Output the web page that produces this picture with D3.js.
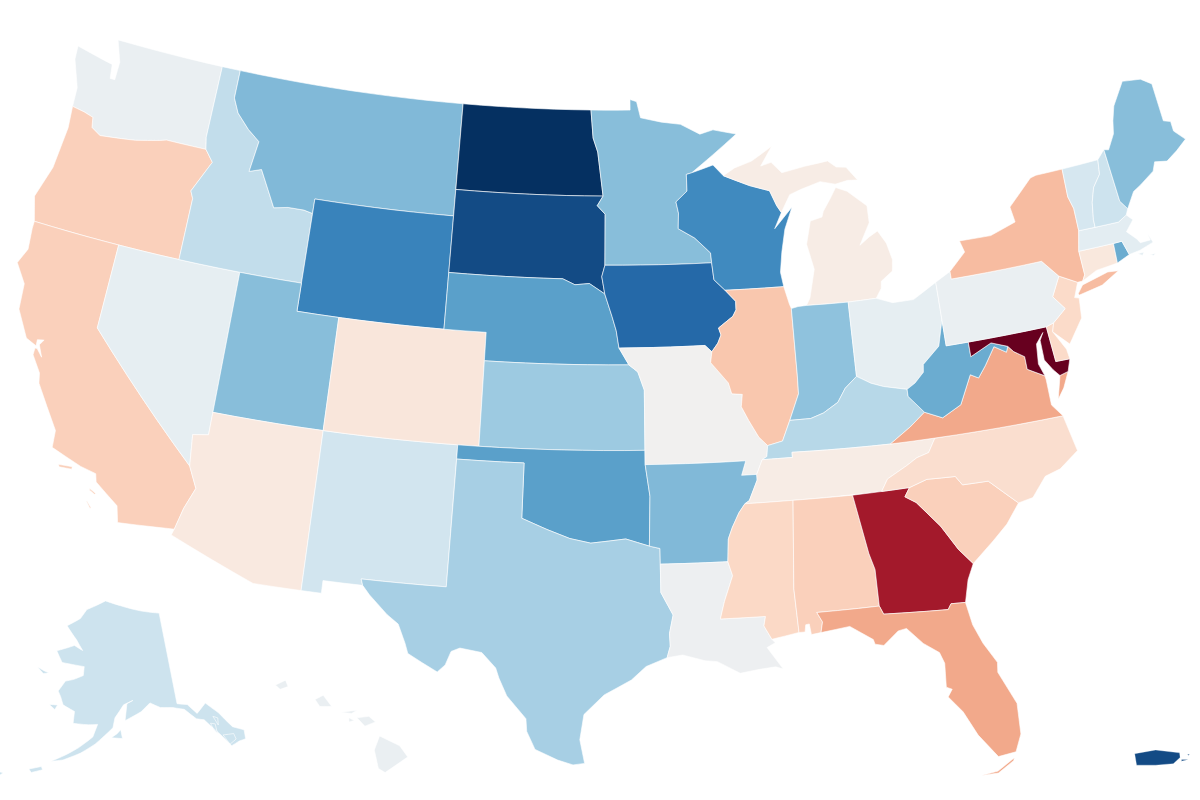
<!DOCTYPE html>
<html>
<head>
<meta charset="utf-8">
<script src="https://d3js.org/d3.v7.min.js"></script>
<style>
  html, body { margin: 0; background: #fff; }
  svg { display: block; filter: blur(0.4px); }
</style>
</head>
<body>
<svg id="map" width="1200" height="800"></svg>
<script>
// shared borders, lon/lat
const rev = a => a.slice().reverse();
const waOr = [[-124.05,46.27],[-123.4,46.2],[-122.9,46.1],[-122.8,45.75],[-122.3,45.55],[-121.2,45.65],[-120.5,45.72],[-119.3,45.93],[-118.98,46],[-116.92,46]];
const idWa = [[-117.03,49],[-117.04,46.42],[-116.92,46]];
const idOr = [[-116.92,46],[-116.46,45.6],[-116.85,45],[-117.2,44.45],[-117.03,44.2],[-117.03,42]];
const idMt = [[-116.05,49],[-116.05,48],[-115.7,47.5],[-115,47],[-114.35,46.65],[-114.55,45.55],[-113.95,45.7],[-113.45,45.05],[-113,44.45],[-112.3,44.55],[-111.5,44.55],[-111.05,44.48]];
const redRiver = [[-97.23,49],[-97.1,48],[-96.85,47.5],[-96.56,45.94]];
const sdMn = [[-96.56,45.94],[-96.85,45.6],[-96.45,45.3],[-96.45,43.5]];
const bigSioux = [[-96.45,43.5],[-96.6,43.1],[-96.45,42.49]];
const sdNe = [[-104.05,43],[-98.5,43],[-97.9,42.8],[-97.2,42.85],[-96.45,42.49]];
const iaNe = [[-96.45,42.49],[-96.1,41.7],[-95.9,41.2],[-95.77,40.59]];
const neMo = [[-95.77,40.59],[-95.31,40]];
const ksMo = [[-95.31,40],[-94.9,39.75],[-94.61,39.11],[-94.62,37]];
const coloradoRiver = [[-114.6,35],[-114.15,34.27],[-114.5,33.5],[-114.72,32.72]];
const redRiverTx = [[-100,34.56],[-98.9,34.2],[-97.9,33.9],[-97,33.75],[-95.5,33.9],[-94.49,33.64]];
const arOk = [[-94.62,36.5],[-94.43,35.39],[-94.49,33.64]];
const mnWi = [[-92.01,46.71],[-92.29,46.66],[-92.29,46.07],[-92.87,45.7],[-92.76,45.3],[-92.8,44.75],[-92,44.4],[-91.25,43.85],[-91.22,43.5]];
const wiIa = [[-91.22,43.5],[-91.15,42.9],[-90.64,42.51]];
const ilIa = [[-90.64,42.51],[-90.16,42.1],[-90.17,41.8],[-90.34,41.58],[-91.05,41.2],[-90.95,40.95],[-91.12,40.67],[-91.42,40.38]];
const ilMo = [[-91.42,40.38],[-91.5,40],[-90.73,39.26],[-90.6,38.87],[-90.12,38.83],[-90.2,38.4],[-89.9,37.9],[-89.5,37.3],[-89.13,36.98]];
const kyMo = [[-89.13,36.98],[-89.2,36.6],[-89.42,36.5]];
const tnMo = [[-89.42,36.5],[-89.7,36]];
const tnAr = [[-89.7,36],[-89.7,35.8],[-90.1,35.1],[-90.3,35]];
const msAr = [[-90.3,35],[-90.58,34.7],[-90.9,34.2],[-91.1,33.8],[-91.17,33]];
const msLa = [[-91.17,33],[-91,32.5],[-91.4,31.6],[-91.6,31],[-89.73,31],[-89.82,30.67],[-89.53,30.18]];
const ohWv = [[-80.52,40.64],[-80.86,39.75],[-81.7,39.2],[-81.75,38.93],[-82.2,38.6],[-82.6,38.42]];
const ohKy = [[-82.6,38.42],[-83.65,38.63],[-84.2,38.8],[-84.82,39.1]];
const inKy = [[-84.82,39.1],[-85.4,38.73],[-85.8,38.27],[-86.5,37.95],[-87.1,37.8],[-88.05,37.8]];
const ilKy = [[-88.05,37.8],[-88.45,37.1],[-89.13,36.98]];
const wabash = [[-88.05,37.8],[-87.55,38.7],[-87.53,39.35],[-87.53,41.7]];
const kyWv = [[-82.6,38.42],[-82.6,38.17],[-81.97,37.54]];
const kyVa = [[-81.97,37.54],[-82.7,37.1],[-83.68,36.6]];
const kyTn = [[-83.68,36.6],[-86.5,36.65],[-88.07,36.68],[-88.07,36.5],[-89.42,36.5]];
const ncTn = [[-81.68,36.59],[-82.05,36.12],[-82.6,36],[-83.1,35.77],[-84,35.4],[-84.32,34.99]];
const vaWv = [[-77.72,39.32],[-77.83,39.13],[-78.35,39.4],[-78.9,38.8],[-79.3,38.42],[-79.65,38.58],[-80.3,37.6],[-81.2,37.25],[-81.97,37.54]];
const potomac = [[-76.32,38.05],[-77.05,38.4],[-77.05,38.85],[-77.5,39.1],[-77.72,39.32]];
const mdWv = [[-77.72,39.32],[-78.45,39.55],[-79.48,39.2],[-79.48,39.72]];
const scGa = [[-83.1,35],[-83.35,34.7],[-82.9,34.45],[-82,33.5],[-81.4,32.6],[-80.88,32.03]];
const ncSc = [[-83.1,35],[-82.3,35.2],[-81.05,35.15],[-80.8,34.82],[-79.67,34.8],[-78.55,33.86]];
const flGa = [[-85,31],[-84.86,30.7],[-82.2,30.56],[-82.05,30.75],[-81.45,30.72]];
const gaAl = [[-85.6,34.98],[-85.18,32.87],[-85,32.3],[-85,31]];
const njPa = [[-74.7,41.36],[-75.2,40.7],[-74.75,40.2],[-75.42,39.8]];
const nyVt = [[-73.35,45],[-73.4,44],[-73.25,43.55],[-73.27,42.75]];
const vtNh = [[-71.5,45.01],[-71.6,44.5],[-72.05,44.1],[-72.3,43.6],[-72.45,43],[-72.46,42.73]];
const meNh = [[-71.08,45.3],[-70.98,43.4],[-70.7,43.07]];
const sabine = [[-94.04,33],[-94.04,32],[-93.55,31.2],[-93.72,30.55],[-93.7,30.1],[-93.84,29.7]];

// state rings
const WA = [[[-124.7,48.38],[-123.1,48.15],[-122.7,48.1],[-122.6,47.6],[-122.35,47.6],[-122.35,48.25],[-122.76,49],...idWa,...rev(waOr),[-124.1,46.95],[-124.65,47.9]]];
const OR = [[...waOr,...idOr,[-124.2,42],[-124.55,42.85],[-124.1,44],[-123.95,45.5]]];
const ID = [[[-117.03,49],...idMt,[-111.05,42],...rev(idOr),...rev(idWa)]];
const MT = [[[-116.05,49],[-104.05,49],[-104.05,45],[-111.05,45],...rev(idMt)]];
const WY = [[[-111.05,45],[-104.05,45],[-104.05,41],[-111.05,41]]];
const ND = [[[-104.05,49],...redRiver,[-104.05,45.94]]];
const SD = [[[-104.05,45.94],...sdMn,...bigSioux,...rev(sdNe)]];
const NE = [[...sdNe,...iaNe,...neMo,[-102.05,40],[-102.05,41],[-104.05,41]]];
const CO = [[[-109.05,41],[-102.05,41],[-102.05,37],[-109.05,37]]];
const UT = [[[-114.05,42],[-111.05,42],[-111.05,41],[-109.05,41],[-109.05,37],[-114.05,37]]];
const NV = [[[-120,42],[-114.05,42],[-114.05,36.2],[-114.74,36.1],[-114.6,35],[-120,39]]];
const CA = [
  [[-124.2,42],[-120,42],[-120,39],...coloradoRiver,[-117.12,32.53],[-117.3,33.1],[-118.4,33.75],[-118.5,34.03],[-119.2,34.15],[-120.6,34.55],[-120.65,35.15],[-121.9,36.6],[-122,36.95],[-122.5,37.5],[-122.5,37.75],[-122.4,37.75],[-122.1,37.5],[-122.35,37.9],[-122.2,38.1],[-122.5,38.05],[-122.48,37.83],[-123,38],[-123.7,38.9],[-123.8,39.8],[-124.4,40.44],[-124.1,41],[-124.2,41.75]],
  [[-120.15,34.03],[-119.55,34.07],[-119.55,33.98],[-120.1,33.95]],
  [[-118.6,33.47],[-118.3,33.35],[-118.35,33.32],[-118.6,33.42]],
  [[-118.6,33.03],[-118.35,32.82],[-118.4,32.8],[-118.6,33]]
];
const AZ = [[[-114.05,37],[-109.05,37],[-109.05,31.33],[-111.07,31.33],[-114.8,32.5],...rev(coloradoRiver),[-114.74,36.1],[-114.05,36.2]]];
const NM = [[[-109.05,37],[-103,37],[-103.04,32],[-106.62,32],[-106.53,31.78],[-108.2,31.78],[-108.2,31.33],[-109.05,31.33]]];
const KS = [[[-102.05,40],...ksMo,[-102.05,37]]];
const OK = [[[-103,37],[-94.62,37],...arOk,...rev(redRiverTx),[-100,36.5],[-103,36.5]]];
const TX = [[[-103,36.5],[-100,36.5],...redRiverTx,[-94.04,33.55],...sabine,[-94.7,29.4],[-95.3,28.93],[-96.4,28.4],[-97.2,27.7],[-97.35,26.8],[-97.15,25.96],[-97.6,25.9],[-98.2,26.06],[-99.1,26.42],[-99.45,27.05],[-99.5,27.5],[-100.3,28.28],[-100.65,28.9],[-100.8,29.25],[-101.4,29.77],[-102.3,29.88],[-102.65,29.74],[-102.85,29.25],[-103.15,28.98],[-103.8,29.27],[-104.4,29.55],[-104.55,29.9],[-104.9,30.55],[-105.4,30.85],[-106.2,31.47],[-106.53,31.78],[-106.62,32],[-103.04,32]]];
const AR = [[[-94.62,36.5],[-90.15,36.5],[-90.37,36],...tnAr,...msAr,[-94.04,33],[-94.04,33.55],...rev(arOk)]];
const MO = [[[-95.77,40.59],[-91.73,40.61],...ilMo,...kyMo,...tnMo,[-90.37,36],[-90.15,36.5],[-94.62,36.5],...rev(ksMo),...rev(neMo)]];
const IA = [[[-96.45,43.5],...wiIa,...ilIa,[-91.73,40.61],...rev(iaNe),...rev(bigSioux)]];
const MN = [[[-97.23,49],[-95.15,49],[-95.15,49.38],[-94.8,49.3],[-94.6,48.72],[-93.5,48.55],[-92.5,48.45],[-91.5,48.07],[-90.8,48.2],[-89.6,48],[-90.9,47.3],...mnWi,...rev(sdMn),...rev(redRiver)]];
const WI = [[[-92.01,46.71],[-90.9,46.95],[-90.4,46.55],[-89.1,46.14],[-88.1,45.9],[-87.8,45.35],[-87.6,45.1],[-88,44.55],[-87.05,45.25],[-87.5,44.5],[-87.75,43.7],[-87.9,43],[-87.8,42.49],...rev(wiIa),...rev(mnWi)]];
const IL = [[[-87.8,42.49],...ilIa,...ilMo,...rev(ilKy),...wabash,[-87.6,41.85]]];
const IN = [[[-87.53,41.7],[-87.2,41.75],[-86.8,41.76],[-84.8,41.72],...inKy,...wabash]];
const MI = [
  [[-86.8,41.76],[-84.8,41.72],[-83.45,41.73],[-83.15,42.05],[-83.1,42.3],[-82.5,42.6],[-82.42,43],[-82.6,43.6],[-82.95,44.07],[-83.4,43.9],[-83.9,43.65],[-83.3,44.4],[-83.3,45],[-84.2,45.6],[-84.75,45.78],[-85.1,45.4],[-85.5,45],[-85.6,44.8],[-86.2,44.7],[-86.5,43.9],[-86.25,43],[-86.6,42]],
  [[-90.4,46.55],[-89.1,46.14],[-88.1,45.9],[-87.8,45.35],[-87.6,45.1],[-87.1,45.7],[-86.5,45.85],[-85.5,46.05],[-84.75,45.9],[-84.1,45.98],[-83.6,45.95],[-84.1,46.45],[-84.6,46.5],[-85,46.75],[-86.2,46.65],[-87.4,46.5],[-87.9,46.9],[-88.45,46.8],[-87.8,47.47],[-88.9,47],[-89.8,46.8]]
];
const OH = [[[-84.8,41.72],[-83.45,41.73],[-82.7,41.5],[-81.7,41.5],[-80.52,41.98],...ohWv,...ohKy]];
const KY = [[...rev(ohKy),...kyWv,...kyVa,...kyTn,...rev(kyMo),...rev(ilKy),...rev(inKy)]];
const TN = [[...rev(tnMo),...rev(kyTn),...ncTn,[-88.2,35],...rev(tnAr)]];
const MS = [[[-88.2,35],...msAr,...msLa,[-88.4,30.35],[-88.47,31.9]]];
const AL = [[[-88.2,35],...gaAl,[-87.6,31],[-87.4,30.65],[-87.5,30.28],[-87.9,30.24],[-87.95,30.62],[-88.1,30.6],[-88.15,30.35],[-88.4,30.35],[-88.47,31.9]]];
const GA = [[...rev(gaAl),[-83.1,35],...scGa.slice(1),[-81.2,31.5],...rev(flGa)]];
const FL = [
  [[-87.6,31],...flGa,[-81.3,29.9],[-81,29.2],[-80.55,28.45],[-80.6,28.1],[-80.05,26.9],[-80.1,25.8],[-80.4,25.2],[-81.1,25.13],[-81.75,26],[-82.2,26.9],[-82.7,27.5],[-82.5,27.75],[-82.72,27.85],[-82.65,28.7],[-82.8,29.1],[-83.4,29.5],[-84,30.1],[-84.35,30.05],[-85,29.6],[-85.35,29.68],[-85.4,29.85],[-86.3,30.4],[-87.5,30.28],[-87.4,30.65]],
  [[-81.85,24.55],[-81.2,24.62],[-80.5,25],[-80.55,24.9],[-81.2,24.55]]
];
const SC = [[...ncSc,[-79.2,33.2],[-79.9,32.7],...rev(scGa)]];
const NC = [[[-84.32,34.99],[-83.1,35],...ncSc.slice(1),[-77.9,33.95],[-77.2,34.6],[-76.5,34.75],[-75.6,35.25],[-75.9,36.55],...ncTn]];
const VA = [
  [[-83.68,36.6],[-81.68,36.59],[-75.9,36.55],[-76.3,37],[-76.3,37.9],...potomac,...vaWv,...kyVa],
  [[-75.95,37.15],[-75.65,37.95],[-75.25,38.03],[-75.6,37.5]]
];
const WV = [[...ohWv,...kyWv,...rev(vaWv),...mdWv,[-80.52,39.72]]];
const MD = [[[-79.48,39.72],[-75.79,39.72],[-75.7,38.46],[-75.05,38.45],[-75.25,38.03],[-75.65,37.95],[-75.9,38.2],[-76.2,38.6],[-76.2,39.3],[-76,39.55],[-76.4,39.2],[-76.5,38.5],...potomac,...mdWv]];
const DE = [[[-75.79,39.72],[-75.42,39.8],[-75.55,39.5],[-75.1,38.8],[-75.05,38.45],[-75.7,38.46]]];
const NJ = [[...njPa,[-75.55,39.5],[-74.9,38.95],[-74.1,39.75],[-74,40.45],[-74.2,40.5],[-73.9,41]]];
const PA = [[[-80.52,41.98],[-79.76,42.27],[-79.76,42],[-75.35,42],...njPa,[-75.79,39.72],[-80.52,39.72]]];
const NY = [
  [[-79.76,42.27],[-78.9,42.85],[-79.05,43.27],[-77.5,43.25],[-76.2,43.55],[-76.3,44.1],[-75,44.95],[-74.7,45],...nyVt,[-73.5,42.05],[-73.49,41.2],[-73.65,41],[-73.9,41],[-74.7,41.36],[-75.35,42],[-79.76,42]],
  [[-74,40.6],[-73.7,40.87],[-72.4,41.1],[-71.9,41.05],[-72.8,40.7],[-73.95,40.55]]
];
const CT = [[[-73.5,42.05],[-71.8,42.02],[-71.85,41.32],[-72.9,41.25],[-73.65,41],[-73.49,41.2]]];
const RI = [[[-71.8,42.02],[-71.38,42.02],[-71.2,41.5],[-71.85,41.32]]];
const MA = [
  [[-73.27,42.75],[-72.46,42.73],[-71.3,42.7],[-70.85,42.87],[-70.6,42.65],[-71.05,42.3],[-70.65,41.95],[-70.55,41.8],[-70.05,41.8],[-70.1,42.05],[-69.95,41.7],[-70.65,41.55],[-71.2,41.5],[-71.38,42.02],[-71.8,42.02],[-73.5,42.05]],
  [[-70.25,41.3],[-69.97,41.3],[-70.1,41.24]],
  [[-70.8,41.45],[-70.5,41.45],[-70.6,41.35]]
];
const VT = [[...rev(nyVt),...vtNh]];
const NH = [[...vtNh,[-71.3,42.7],[-70.85,42.87],[-70.7,43.07],...rev(meNh)]];
const ME = [[[-71.08,45.3],[-70.85,45.25],[-70.4,45.75],[-70.25,46.2],[-70,46.7],[-69.23,47.46],[-69,47.43],[-68.3,47.35],[-67.8,47.07],[-67.79,45.7],[-67.45,45.6],[-67.45,45.25],[-67,44.85],[-67.6,44.55],[-68.2,44.3],[-68.8,44.4],[-69,44.1],[-69.8,43.75],[-70.2,43.6],[-70.7,43.07],[-70.98,43.4]]];
const LA = [[...sabine,[-93.2,29.78],[-92.3,29.55],[-91.8,29.5],[-90.9,29.05],[-90.1,29.15],[-89.45,29.2],[-89.15,29.1],[-89.75,29.9],[-89.4,30.05],...rev(msLa)]];
const AK = [
  [[-141,69.65],[-141,60.3],[-139,60],[-137.5,58.9],[-135.4,59.7],[-133.5,58.4],[-131.8,56.6],[-130,55.9],[-130.3,55],[-131.5,55],[-133,54.8],[-134.3,56.2],[-136.5,58.1],[-137.9,58.4],[-139.8,59.6],[-142,60],[-144.5,60.2],[-146.5,60.8],[-148.5,60],[-151.8,59.2],[-151.3,60.9],[-150,61.2],[-152,60.8],[-153.8,59.5],[-154.2,58.5],[-157.5,56.8],[-160,55.8],[-163,54.9],[-165,54.6],[-162.5,55.5],[-160.5,56.3],[-158,57.5],[-157.2,58.8],[-159,58.7],[-162,58.7],[-162,59.9],[-164.5,60.4],[-165.3,61.2],[-166,61.7],[-164.8,62.8],[-163,63.1],[-161,63.6],[-161,64.5],[-163,64.55],[-166.3,64.6],[-168.1,65.65],[-164,66.5],[-161.8,66.1],[-163.7,67.1],[-166.8,68.35],[-163.5,69.3],[-162,70.3],[-156.6,71.35],[-152,70.85],[-146,70.15]],
  [[-154.5,57.5],[-152.4,57.4],[-152.7,58.3],[-153.4,57.9]],
  [[-171.6,63.6],[-170,63.4],[-168.8,63.3],[-170,63.1]],
  [[-167.3,60.2],[-165.6,60.3],[-166,59.8]],
  [[-168.5,53.4],[-166.5,53.9],[-166.2,53.6],[-168,53.1]],
  [[-174.5,52.3],[-172.5,52.4],[-173,52]],
  [[-177,51.95],[-176,52.05],[-176.2,51.8]],
  [[-133.9,56.1],[-132,55.9],[-131.9,55.3],[-133.2,55]],
  [[-135.5,57.6],[-134.7,57.4],[-134.8,56.4],[-135.3,57]],
  [[-134.7,58.2],[-133.9,57.9],[-134.2,57.2]]
];
const HI = [
  [[-156.05,19.75],[-155.85,20.25],[-155.1,19.9],[-154.8,19.5],[-155.65,18.95],[-155.9,19.1]],
  [[-156.7,20.9],[-156.25,20.95],[-156,20.75],[-156.4,20.6]],
  [[-158.28,21.55],[-157.97,21.7],[-157.65,21.3],[-158.1,21.3]],
  [[-159.78,22.05],[-159.4,22.23],[-159.3,22],[-159.6,21.9]],
  [[-157.3,21.1],[-156.7,21.17],[-156.9,21.05]],
  [[-157,20.9],[-156.8,20.8],[-157,20.75]]
];
const PR = [
  [[-67.27,18.35],[-66.5,18.48],[-65.62,18.38],[-65.6,18.22],[-65.85,18],[-66.5,17.95],[-67.2,17.95]],
  [[-65.55,18.15],[-65.3,18.15],[-65.55,18.09]],
  [[-65.33,18.33],[-65.25,18.33],[-65.3,18.29]]
];

const stateIds = ["WA","OR","CA","NV","ID","MT","WY","UT","AZ","NM","CO","ND","SD","NE","KS","OK","TX","MN","IA","MO","AR","LA","WI","IL","MI","IN","OH","KY","TN","MS","AL","GA","FL","SC","NC","VA","WV","MD","DE","NJ","PA","NY","CT","RI","MA","VT","NH","ME","AK","HI"];
const stateShapes = [WA,OR,CA,NV,ID,MT,WY,UT,AZ,NM,CO,ND,SD,NE,KS,OK,TX,MN,IA,MO,AR,LA,WI,IL,MI,IN,OH,KY,TN,MS,AL,GA,FL,SC,NC,VA,WV,MD,DE,NJ,PA,NY,CT,RI,MA,VT,NH,ME,AK,HI];
// position on the colour ramp (0 = dark red, 1 = dark blue)
const stateValues = [.53,.385,.385,.54,.62,.72,.835,.71,.455,.59,.445,1,.95,.775,.68,.775,.665,.71,.89,.505,.72,.52,.82,.365,.47,.7,.54,.64,.47,.405,.385,.085,.31,.385,.42,.31,.75,0,.41,.41,.53,.345,.45,.75,.55,.58,.6,.71,.6,.53];
const prValue = .95;

const color = d3.scaleSequential(d3.interpolateRdBu).domain([0, 1]);
const svg = d3.select("#map");

const projection = d3.geoAlbersUsa().scale(1620).translate([601, 402]);
const prProjection = d3.geoMercator().center([-66.45, 18.2]).scale(1560).translate([1157, 758]);
const path = d3.geoPath(projection);
const prPath = d3.geoPath(prProjection);

// step along lon/lat so east-west borders follow the parallels
function densify(ring) {
  const out = [];
  ring.forEach((p, i) => {
    const q = ring[(i + 1) % ring.length];
    const n = Math.max(1, Math.ceil(Math.abs(q[0] - p[0])));
    for (let k = 0; k < n; k++) {
      out.push([p[0] + (q[0] - p[0]) * k / n, p[1] + (q[1] - p[1]) * k / n]);
    }
  });
  out.push(out[0]);
  return out;
}

function toFeature(rings) {
  const polys = rings.map(r => {
    let ring = densify(r);
    if (d3.geoArea({type: "Polygon", coordinates: [ring]}) > 2 * Math.PI) ring = ring.reverse();
    return [ring];
  });
  return {type: "MultiPolygon", coordinates: polys};
}

const features = stateIds.map((id, i) => ({id, value: stateValues[i], geo: toFeature(stateShapes[i])}));

svg.append("g").selectAll("path")
  .data(features)
  .join("path")
  .attr("id", d => d.id)
  .attr("d", d => path(d.geo))
  .attr("fill", d => color(d.value))
  .attr("stroke", "#fff")
  .attr("stroke-opacity", 0.6)
  .attr("stroke-width", 1);

svg.append("path")
  .attr("id", "PR")
  .attr("d", prPath(toFeature(PR)))
  .attr("fill", color(prValue))
  .attr("stroke", "#fff")
  .attr("stroke-width", 0.3);
</script>
</body>
</html>
